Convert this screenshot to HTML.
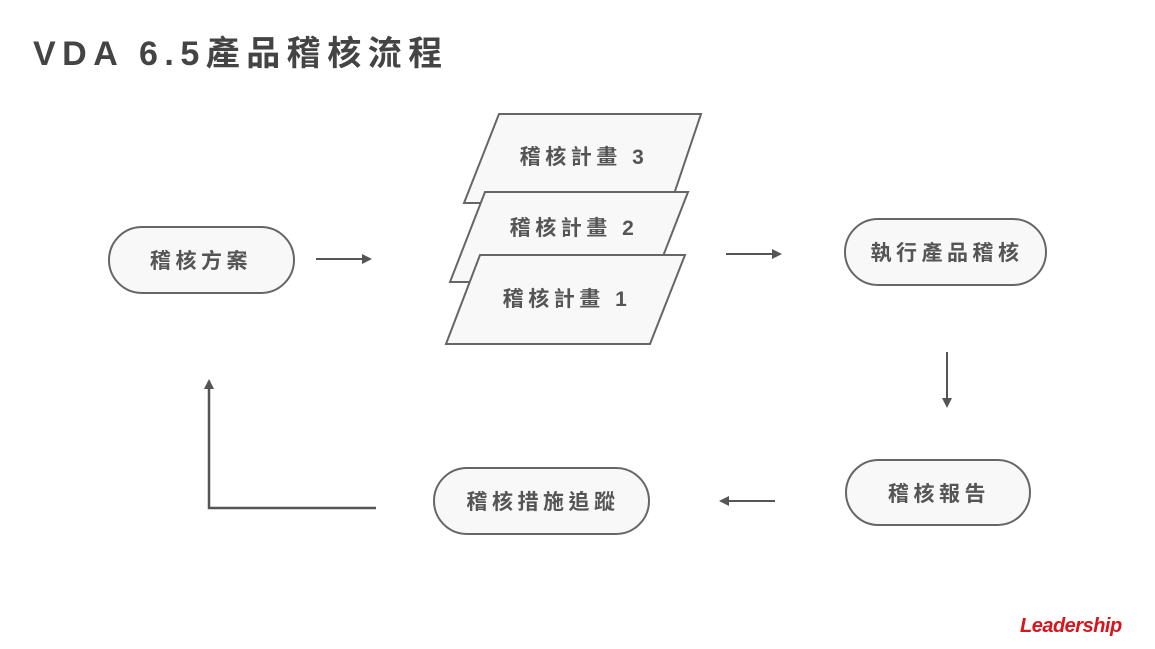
<!DOCTYPE html>
<html><head><meta charset="utf-8"><style>
body{margin:0;width:1155px;height:649px;background:#fff;overflow:hidden;font-family:"Liberation Sans","Noto Sans CJK TC",sans-serif}
</style></head><body>
<svg width="1155" height="649" viewBox="0 0 1155 649" xmlns="http://www.w3.org/2000/svg" style="position:absolute;left:0;top:0">
<defs><marker id="a" markerWidth="10" markerHeight="10" refX="8" refY="5" orient="auto" markerUnits="userSpaceOnUse"><path d="M0,0 L10,5 L0,10 z" fill="#555"/></marker></defs>
<text x="33" y="65" font-size="34" font-weight="bold" fill="#444" letter-spacing="6.5" font-family="Liberation Sans, Noto Sans CJK TC, sans-serif">VDA 6.5產品稽核流程</text>
<g fill="#f8f8f8" stroke="#666" stroke-width="2">
<rect x="109" y="227" width="185" height="66" rx="33"/>
<rect x="845" y="219" width="201" height="66" rx="33"/>
<rect x="846" y="460" width="184" height="65" rx="32.5"/>
<rect x="434" y="468" width="215" height="66" rx="33"/>
<polygon points="499,114 701,114 671,203 464,203"/>
<polygon points="485,192 688,192 653,282 450,282"/>
<polygon points="480,255 685,255 650,344 446,344"/>
</g>
<g font-size="21" font-weight="bold" fill="#555" letter-spacing="4.5" text-anchor="middle" font-family="Liberation Sans, Noto Sans CJK TC, sans-serif">
<text x="201" y="268">稽核方案</text>
<text x="947" y="260">執行產品稽核</text>
<text x="939" y="501">稽核報告</text>
<text x="543" y="509">稽核措施追蹤</text>
<text x="584" y="164">稽核計畫 3</text>
<text x="574" y="235">稽核計畫 2</text>
<text x="567" y="306">稽核計畫 1</text>
</g>
<g stroke="#555" stroke-width="2" fill="none">
<line x1="316" y1="259" x2="370" y2="259" marker-end="url(#a)"/>
<line x1="726" y1="254" x2="780" y2="254" marker-end="url(#a)"/>
<line x1="947" y1="352" x2="947" y2="406" marker-end="url(#a)"/>
<line x1="775" y1="501" x2="721" y2="501" marker-end="url(#a)"/>
<polyline points="376,508 209,508 209,381" marker-end="url(#a)" stroke-width="2.5"/>
</g>
<text x="1020" y="632" font-size="20" font-weight="bold" font-style="italic" fill="#d8141c" letter-spacing="-0.5" font-family="Liberation Sans, sans-serif">Leadership</text>
</svg>
</body></html>
